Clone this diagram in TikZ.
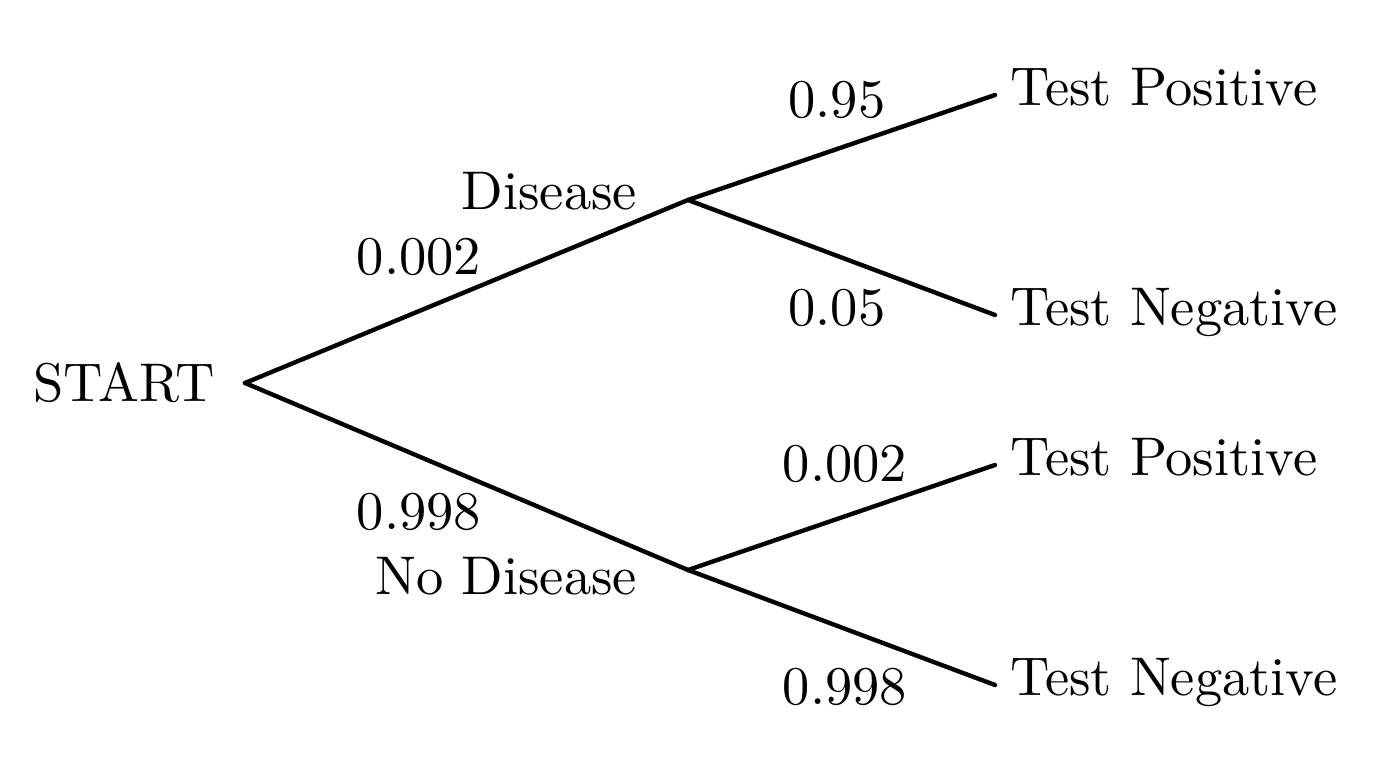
\documentclass[tikz,border=0pt]{standalone}
\usepackage{amsmath}
\tikzset{
    branch/.style={line width=1.25pt, line cap=round},
    prob/.style={anchor=base, inner sep=0pt},
    leaf/.style={anchor=west, inner sep=2.6pt, text height=7pt, text depth=3pt},
}
\begin{document}
\begin{tikzpicture}[scale=1, every node/.style={scale=1.55}]
	\useasboundingbox (0,0) rectangle (13.76,7.68);

	\node[anchor=east, inner xsep=5.4pt, inner ysep=0pt] (start) at (2.45,3.85) {START};
	\coordinate (dis) at (6.88,5.68);
	\coordinate (nodis) at (6.88,1.98);

	\node[leaf] (dpos) at (9.95,6.73) {Test Positive};
	\node[leaf] (dneg) at (9.95,4.53) {Test Negative};
	\node[leaf] (npos) at (9.95,3.03) {Test Positive};
	\node[leaf] (nneg) at (9.95,0.83) {Test Negative};

	\draw[branch] (start.east) -- (dis) -- (dpos.west);
	\draw[branch] (dis) -- (dneg.west);
	\draw[branch] (start.east) -- (nodis) -- (npos.west);
	\draw[branch] (nodis) -- (nneg.west);

	\node[anchor=base east, inner sep=0pt] (dislab) at (6.38,5.58) {Disease};
	\node[anchor=base east, inner sep=0pt] (nodislab) at (6.38,1.73) {No Disease};

	\node[prob] (p1) at (4.19,4.93) {0.002};
	\node[prob] (p2) at (4.19,2.38) {0.998};
	\node[prob] (p3) at (8.37,6.50) {0.95};
	\node[prob] (p4) at (8.37,4.42) {0.05};
	\node[prob] (p5) at (8.45,2.86) {0.002};
	\node[prob] (p6) at (8.45,0.63) {0.998};
\end{tikzpicture}
\end{document}
